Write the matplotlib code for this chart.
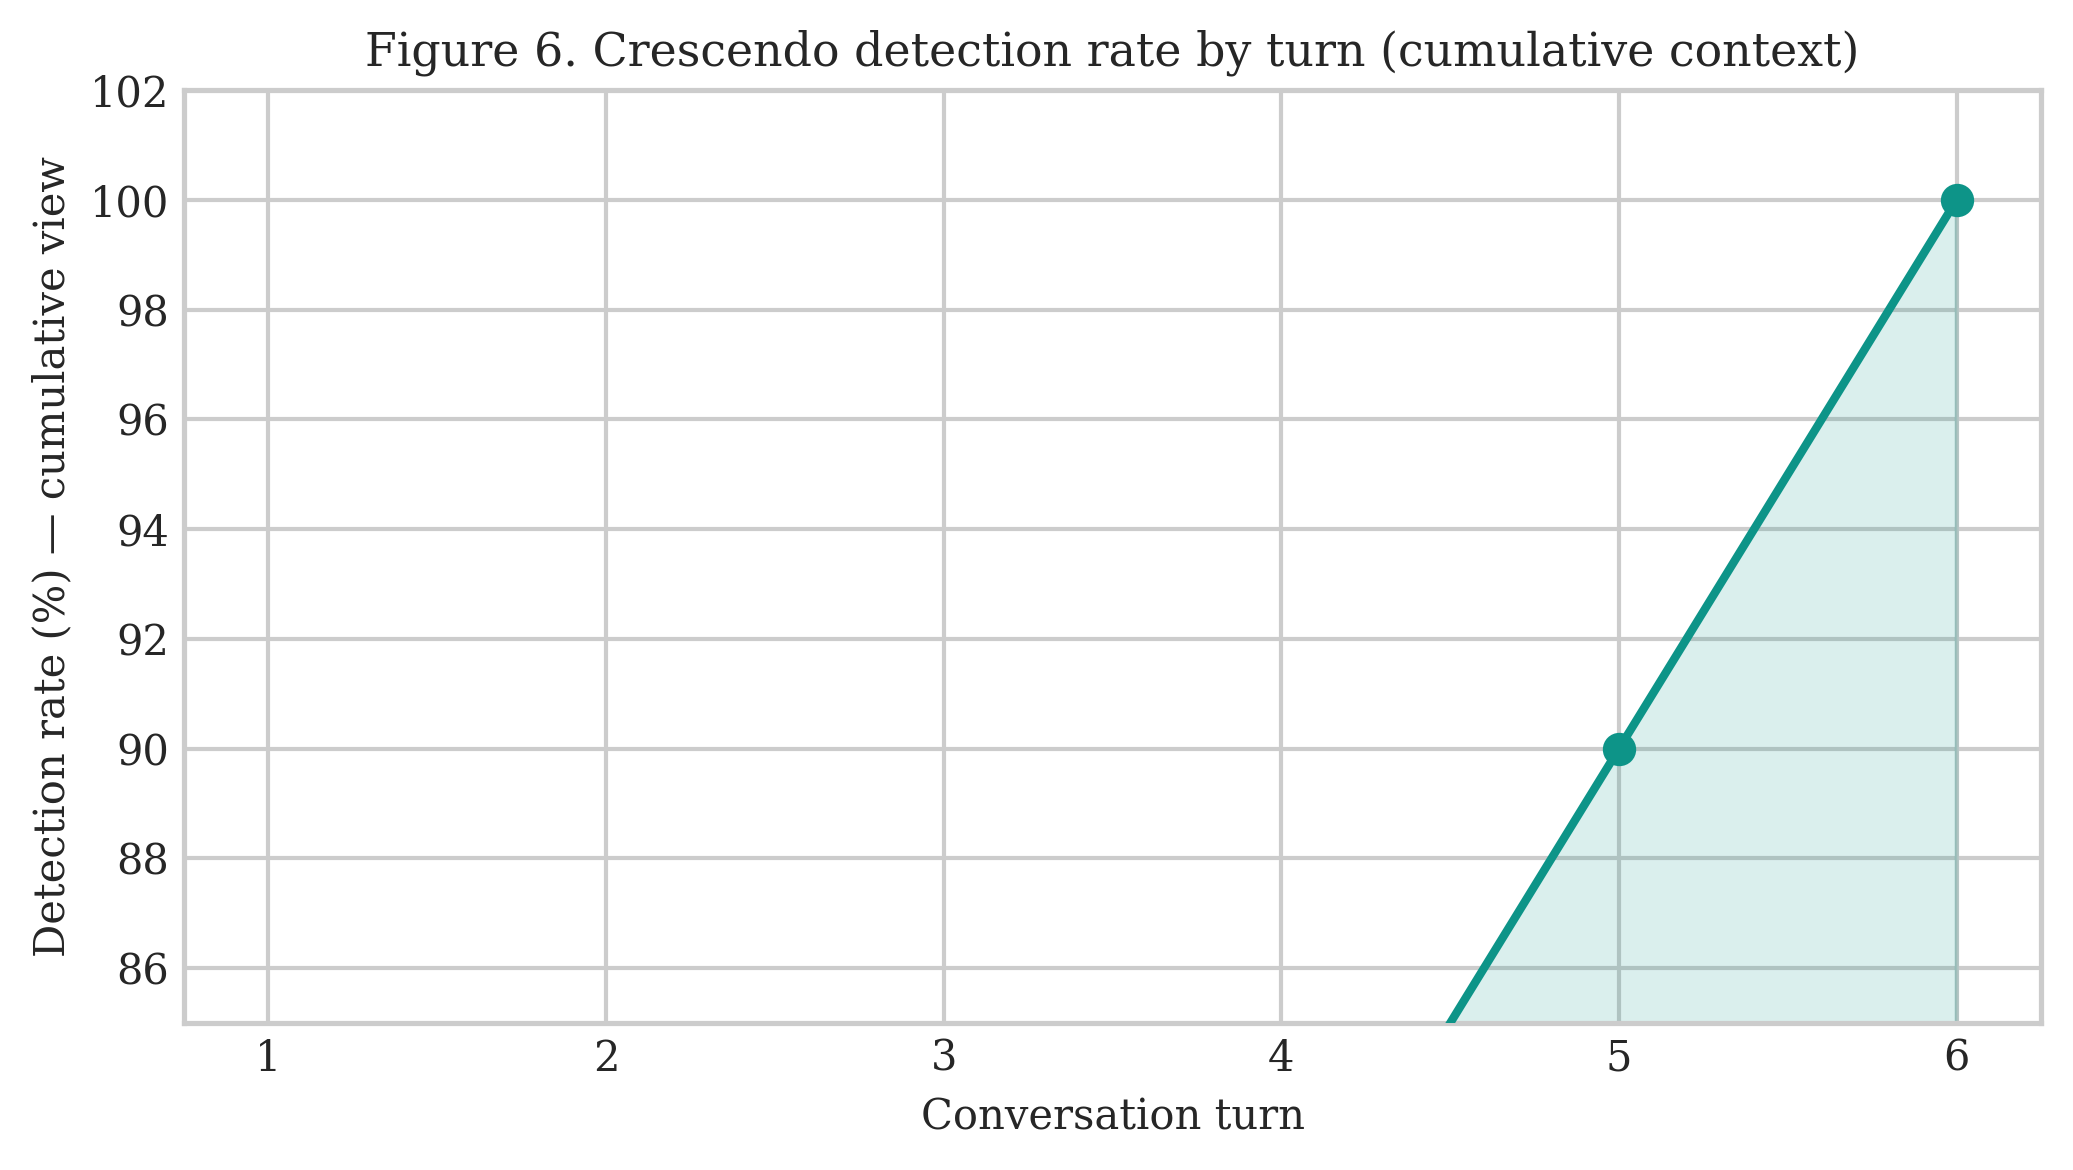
import matplotlib
matplotlib.use("Agg")
import matplotlib.pyplot as plt
import seaborn as sns

turns = [1, 2, 3, 4, 5, 6]
detection_rate = [10, 30, 60, 80, 90, 100]
yticks = [86, 88, 90, 92, 94, 96, 98, 100, 102]

sns.set_theme(style="whitegrid", context="notebook")
plt.rcParams['font.family'] = ['serif']
plt.rcParams['font.serif'] = ['DejaVu Serif']

fig, ax = plt.subplots(figsize=(6.91, 3.9), dpi=300)
color = "#0d9488"
ax.plot(turns, detection_rate, marker="o", color=color, linewidth=2, markersize=7, zorder=3)
ax.fill_between(turns, detection_rate, 0, color=color, alpha=0.15, zorder=2)
ax.set_ylim(85, 102)
ax.set_yticks(yticks)
ax.set_xticks(turns)
ax.tick_params(labelsize=10, length=0, pad=3.5)
ax.set_xlabel("Conversation turn", fontsize=10, labelpad=4)
ax.set_ylabel("Detection rate (%) — cumulative view", fontsize=10, labelpad=4)
ax.set_title("Figure 6. Crescendo detection rate by turn (cumulative context)", fontsize=11)
fig.subplots_adjust(left=0.0888, right=0.9846, top=0.923, bottom=0.1256)
fig.savefig("out.png", dpi=300)
